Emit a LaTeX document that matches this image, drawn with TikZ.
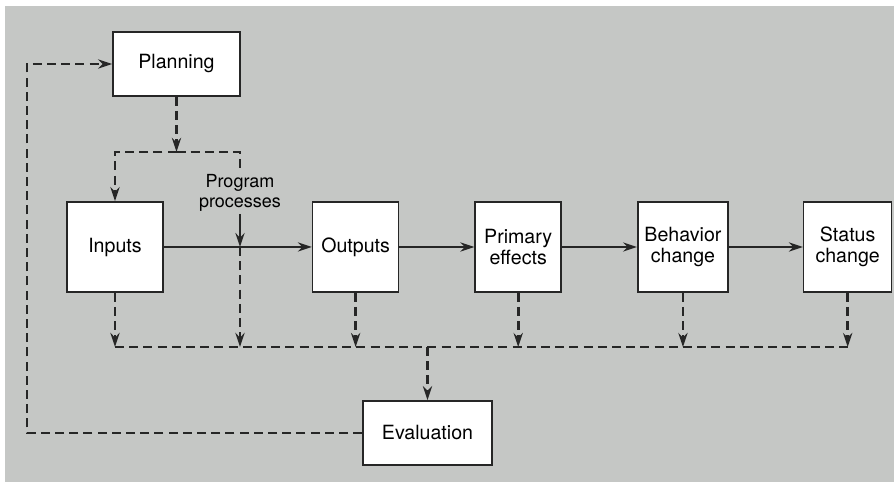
\documentclass[tikz,border=0pt]{standalone}
\usepackage{fontspec}
\setmainfont{TeX Gyre Heros}
\usetikzlibrary{positioning,arrows.meta}
\usepackage{xcolor}
\definecolor{paper}{RGB}{197,199,197}
\definecolor{ink}{RGB}{38,38,38}
\tikzset{
  box/.style={rectangle,draw=ink,fill=white,line width=0.8pt,align=center,
    minimum height=45pt,font=\fontsize{9.8}{10.6}\selectfont},
  flow/.style={draw=ink,line width=1.1pt,->},
  fb/.style={draw=ink,line width=1.3pt,dash pattern=on 4.5pt off 2.6pt,->},
  >={Stealth[length=7pt,width=4.6pt]}
}

\begin{document}
\begin{tikzpicture}[x=0.5pt,y=-0.5pt]
    \useasboundingbox (0,0) rectangle (894,485);
    \fill[paper] (5,6) rectangle (894,482);

    \node (inputs) [box,minimum width=48pt] at (115,247) {Inputs};
    \node (outputs) [box,minimum width=43pt,right=74pt of inputs] {Outputs};
    \node (primary) [box,minimum width=43pt,right=37.5pt of outputs] {Primary\\effects};
    \node (behavior) [box,minimum width=44pt,right=37.5pt of primary] {Behavior\\change};
    \node (status) [box,minimum width=44pt,right=37pt of behavior] {Status\\change};

    \node (plan) [box,minimum width=63.5pt,minimum height=32pt] at (176.5,64) {Planning};
    \node (eval) [box,minimum width=64.5pt,minimum height=32pt] at (427.5,433) {Evaluation};

    \node (prog) [draw=none,align=center,inner sep=1pt,font=\fontsize{9}{10}\selectfont] at (240,193) {Program\\processes};

    \coordinate (split) at (176.5,152);
    \coordinate (merge) at (prog.south |- inputs.east);
    \coordinate (bus) at (0,347);
    \coordinate (loop) at (27,0);

    % Arrows
    \draw[flow] (inputs.east) -- (outputs.west);
    \draw[flow] (outputs.east) -- (primary.west);
    \draw[flow] (primary.east) -- (behavior.west);
    \draw[flow] (behavior.east) -- (status.west);
    \draw[flow] (prog.south) -- (merge);

    \draw[fb] (plan.south) -- (split);
    \draw[fb] (split) -| (inputs.north);
    \draw[fb,-] (split) -| (prog.north);

    \draw[fb,-] (inputs.south |- bus) -- (status.south |- bus);
    \draw[fb] (inputs.south) -- (inputs.south |- bus);
    \draw[fb] (merge) -- (merge |- bus);
    \draw[fb] (outputs.south) -- (outputs.south |- bus);
    \draw[fb] (primary.south) -- (primary.south |- bus);
    \draw[fb] (behavior.south) -- (behavior.south |- bus);
    \draw[fb] (status.south) -- (status.south |- bus);
    \draw[fb] (eval.north |- bus) -- (eval.north);

    \draw[fb] (eval.west) -- (eval.west -| loop) |- (plan.west);

\end{tikzpicture}
\end{document}
